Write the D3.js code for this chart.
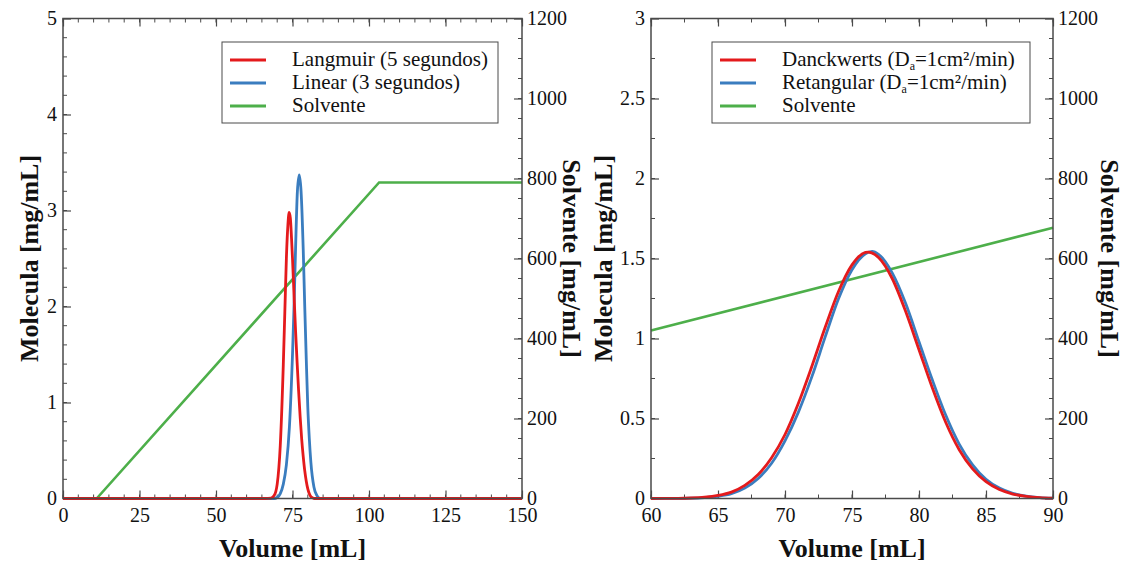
<!DOCTYPE html>
<html>
<head>
<meta charset="utf-8">
<script src="https://cdn.jsdelivr.net/npm/d3@7"></script>
<style>
  html, body { margin: 0; padding: 0; background: #fff; }
  svg text { font-family: "Liberation Serif", "Times New Roman", serif; fill: #111; }
</style>
</head>
<body>
<svg id="chart" width="1125" height="562"></svg>
<script>
// ---- Panel A: full run, 0–150 mL ----
const volA = [0, 60, 66, 68, 69, 70, 71, 72, 72.5, 73, 73.5, 73.9, 74.3, 74.7, 75, 75.5, 76, 76.5, 77, 77.5, 78, 78.5, 79, 79.5, 80, 80.5, 81, 81.5, 82, 83, 150];
const langmuir = [0, 0, 0, 0.005, 0.03, 0.15, 0.55, 1.4, 1.95, 2.5, 2.85, 2.98, 2.92, 2.7, 2.5, 2.12, 1.75, 1.42, 1.12, 0.85, 0.62, 0.44, 0.29, 0.18, 0.1, 0.05, 0.02, 0.008, 0, 0, 0];
const volLinear = [0, 69, 70, 71, 72, 73, 74, 75, 75.5, 76, 76.6, 77.2, 77.8, 78.5, 79, 79.5, 80, 80.5, 81, 82, 83, 84, 150];
const linear = [0, 0, 0.01, 0.05, 0.15, 0.35, 0.75, 1.5, 2.0, 2.6, 3.2, 3.37, 3.2, 2.6, 2.0, 1.45, 0.95, 0.62, 0.38, 0.12, 0.03, 0, 0];
const volSolvA = [0, 11, 103.3, 150];
const solventA = [0, 0, 790, 790];

// ---- Panel B: detail, 60–90 mL ----
const volB = [60, 61, 62, 63, 64, 65, 66, 67, 68, 69, 70, 71, 72, 73, 74, 75, 76, 76.2, 77, 78, 79, 80, 81, 82, 83, 84, 85, 86, 87, 88, 89, 90];
const danckwerts = [0, 0.0005, 0.001, 0.003, 0.008, 0.019, 0.04, 0.082, 0.15, 0.255, 0.4, 0.595, 0.825, 1.07, 1.295, 1.46, 1.538, 1.54, 1.505, 1.375, 1.17, 0.93, 0.69, 0.475, 0.305, 0.185, 0.105, 0.056, 0.028, 0.013, 0.005, 0.002];
const volRet = [60, 61, 62, 63, 64, 65, 66, 67, 68, 69, 70, 71, 72, 73, 74, 75, 76, 76.5, 77, 78, 79, 80, 81, 82, 83, 84, 85, 86, 87, 88, 89, 90];
const retangular = [0, 0.0003, 0.001, 0.002, 0.006, 0.014, 0.03, 0.065, 0.125, 0.22, 0.36, 0.54, 0.76, 1.01, 1.25, 1.43, 1.53, 1.545, 1.525, 1.41, 1.22, 0.98, 0.74, 0.52, 0.34, 0.21, 0.12, 0.065, 0.032, 0.015, 0.006, 0.002];
const volSolvB = [60, 90];
const solventB = [420, 677];

// ---- Axis ticks ----
const xTicksA = [0, 25, 50, 75, 100, 125, 150];
const yTicksA = [0, 1, 2, 3, 4, 5];
const xTicksB = [60, 65, 70, 75, 80, 85, 90];
const yTicksB = [0, 0.5, 1, 1.5, 2, 2.5, 3];
const solvTicks = [0, 200, 400, 600, 800, 1000, 1200];

const legendA = [
  { name: "Langmuir (5 segundos)", color: "#e41a1c" },
  { name: "Linear (3 segundos)", color: "#3a7dbf" },
  { name: "Solvente", color: "#4daf4a" }
];
const legendB = [
  { name: ["Danckwerts (D", "a", "=1cm²/min)"], color: "#e41a1c" },
  { name: ["Retangular (D", "a", "=1cm²/min)"], color: "#3a7dbf" },
  { name: "Solvente", color: "#4daf4a" }
];

const RED = "#e41a1c", BLUE = "#3a7dbf", GREEN = "#4daf4a";
const FRAME = "#4a4a4a";
const SERIF = '"Liberation Serif", "Times New Roman", serif';

const svg = d3.select("#chart");

function range(a, b, step) {
  const out = [];
  for (let v = a; v <= b + 1e-9; v += step) out.push(+v.toFixed(6));
  return out;
}

function panel(cfg) {
  const { left, right, top, bottom } = cfg.box;
  const x = d3.scaleLinear().domain(cfg.xDomain).range([left, right]);
  const y = d3.scaleLinear().domain(cfg.yDomain).range([bottom, top]);
  const y2 = d3.scaleLinear().domain([0, 1200]).range([bottom, top]);

  const g = svg.append("g");

  // minor ticks on all four sides, pointing inward
  const minor = g.append("g").attr("stroke", FRAME).attr("stroke-width", 1);
  const mx = range(cfg.xDomain[0], cfg.xDomain[1], cfg.xMinor);
  const my = range(cfg.yDomain[0], cfg.yDomain[1], cfg.yMinor);
  const my2 = range(0, 1200, 50);
  mx.forEach(v => {
    minor.append("line").attr("x1", x(v)).attr("x2", x(v)).attr("y1", bottom).attr("y2", bottom - 4);
    minor.append("line").attr("x1", x(v)).attr("x2", x(v)).attr("y1", top).attr("y2", top + 4);
  });
  my.forEach(v => minor.append("line").attr("x1", left).attr("x2", left + 4).attr("y1", y(v)).attr("y2", y(v)));
  my2.forEach(v => minor.append("line").attr("x1", right).attr("x2", right - 4).attr("y1", y2(v)).attr("y2", y2(v)));

  const styleAxis = sel => {
    sel.attr("font-family", SERIF).attr("font-size", 20);
    sel.select(".domain").remove();
    sel.selectAll(".tick line").attr("stroke", FRAME).attr("stroke-width", 1.2);
    sel.selectAll(".tick text").style("font-size", "20px").attr("fill", "#111").style("font-family", SERIF);
  };

  g.append("g").attr("transform", `translate(0,${bottom})`)
    .call(d3.axisBottom(x).tickValues(cfg.xTicks).tickSize(-8).tickPadding(9).tickFormat(d3.format("")))
    .call(styleAxis);
  g.append("g").attr("transform", `translate(0,${top})`)
    .call(d3.axisTop(x).tickValues(cfg.xTicks).tickSize(-8).tickFormat(""))
    .call(styleAxis);
  g.append("g").attr("transform", `translate(${left},0)`)
    .call(d3.axisLeft(y).tickValues(cfg.yTicks).tickSize(-8).tickPadding(6).tickFormat(d3.format("")))
    .call(styleAxis);
  g.append("g").attr("transform", `translate(${right},0)`)
    .call(d3.axisRight(y2).tickValues(solvTicks).tickSize(-8).tickPadding(5).tickFormat(d3.format("")))
    .call(styleAxis);

  // curves
  const line = (xs, ys, sy, curve) => d3.line()
    .x((d, i) => x(xs[i])).y((d, i) => sy(ys[i])).curve(curve)(ys);

  const plot = g.append("g");
  plot.append("path").attr("d", line(cfg.solv[0], cfg.solv[1], y2, d3.curveLinear))
    .attr("fill", "none").attr("stroke", GREEN).attr("stroke-width", 2.6);
  plot.append("path").attr("d", line(cfg.blue[0], cfg.blue[1], y, d3.curveMonotoneX))
    .attr("fill", "none").attr("stroke", BLUE).attr("stroke-width", 2.8);
  plot.append("path").attr("d", line(cfg.red[0], cfg.red[1], y, d3.curveMonotoneX))
    .attr("fill", "none").attr("stroke", RED).attr("stroke-width", 2.8);

  // frame
  g.append("rect").attr("x", left).attr("y", top).attr("width", right - left).attr("height", bottom - top)
    .attr("fill", "none").attr("stroke", FRAME).attr("stroke-width", 1.5);

  // legend
  const lg = g.append("g");
  const lb = cfg.legendBox;
  lg.append("rect").attr("x", lb.x).attr("y", lb.y).attr("width", lb.w).attr("height", lb.h)
    .attr("fill", "#fff").attr("stroke", FRAME).attr("stroke-width", 1);
  cfg.legend.forEach((item, i) => {
    const yy = lb.y + 18 + i * 23;
    lg.append("line").attr("x1", lb.x + 8).attr("x2", lb.x + 44).attr("y1", yy).attr("y2", yy)
      .attr("stroke", item.color).attr("stroke-width", 3);
    const t = lg.append("text").attr("x", lb.textX).attr("y", yy + 6).style("font-size", "21px");
    if (Array.isArray(item.name)) {
      t.append("tspan").text(item.name[0]);
      t.append("tspan").text(item.name[1]).attr("dy", 4).style("font-size", "12px");
      t.append("tspan").text(item.name[2]).attr("dy", -4);
    } else {
      t.text(item.name);
    }
  });

  // titles
  const titleStyle = s => s.style("font-size", "26px").style("font-weight", "bold").attr("text-anchor", "middle");
  g.append("text").attr("x", (left + right) / 2).attr("y", 557).text("Volume [mL]").call(titleStyle);
  g.append("text").attr("transform", `translate(${cfg.yTitleX},${(top + bottom) / 2}) rotate(-90)`)
    .text("Molecula [mg/mL]").call(titleStyle);
  g.append("text").attr("transform", `translate(${cfg.y2TitleX},${(top + bottom) / 2}) rotate(90)`)
    .text("Solvente [mg/mL]").call(titleStyle);
}

panel({
  box: { left: 63, right: 522, top: 18.5, bottom: 498.5 },
  xDomain: [0, 150], yDomain: [0, 5],
  xTicks: xTicksA, yTicks: yTicksA, xMinor: 5, yMinor: 0.2,
  red: [volA, langmuir], blue: [volLinear, linear], solv: [volSolvA, solventA],
  legend: legendA,
  legendBox: { x: 222, y: 42, w: 276, h: 81, textX: 292 },
  yTitleX: 38, y2TitleX: 563
});

panel({
  box: { left: 651, right: 1053, top: 18.5, bottom: 498.5 },
  xDomain: [60, 90], yDomain: [0, 3],
  xTicks: xTicksB, yTicks: yTicksB, xMinor: 2.5, yMinor: 0.25,
  red: [volB, danckwerts], blue: [volRet, retangular], solv: [volSolvB, solventB],
  legend: legendB,
  legendBox: { x: 712, y: 42, w: 318, h: 81, textX: 782 },
  yTitleX: 612, y2TitleX: 1101
});
</script>
</body>
</html>
